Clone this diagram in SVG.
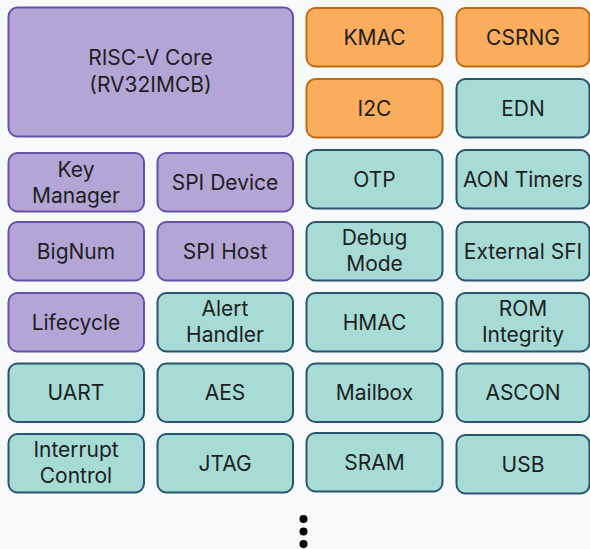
<svg xmlns="http://www.w3.org/2000/svg" width="590" height="549" viewBox="0 0 590 549">
<style>
.p{fill:#b3a6d6;stroke:#6651a8;stroke-width:2}
.o{fill:#f9ad5d;stroke:#c2690f;stroke-width:2}
.t{fill:#a6dbd6;stroke:#28546f;stroke-width:2}
text{font-family:Inter,"Open Sans","Liberation Sans",sans-serif;font-size:21px;fill:#1e1e1e;text-anchor:middle}
</style>
<rect x="0" y="0" width="590" height="549" fill="#f8f9fb"/>
<g id="core"><rect class="p" x="8.5" y="7.5" width="284.5" height="129" rx="9"/><text x="150.5" y="65">RISC-V Core</text><text x="150.5" y="92">(RV32IMCB)</text></g>
<g id="kmac"><rect class="o" x="306.5" y="8" width="136" height="58.5" rx="9"/><text x="374.5" y="45">KMAC</text></g>
<g id="csrng"><rect class="o" x="456.5" y="8" width="133" height="58.5" rx="9"/><text x="523" y="45">CSRNG</text></g>
<g id="i2c"><rect class="o" x="306.5" y="79" width="136" height="58.5" rx="9"/><text x="374.5" y="116">I2C</text></g>
<g id="edn"><rect class="t" x="456.5" y="79" width="133" height="58.5" rx="9"/><text x="523" y="116">EDN</text></g>
<g id="keymgr"><rect class="p" x="8.5" y="153" width="135.5" height="58.5" rx="9"/><text x="76" y="177">Key</text><text x="76" y="202.5">Manager</text></g>
<g id="spidev"><rect class="p" x="157.5" y="153" width="135.5" height="58.5" rx="9"/><text x="225" y="190">SPI Device</text></g>
<g id="otp"><rect class="t" x="306.5" y="150" width="136" height="58.5" rx="9"/><text x="374.5" y="187">OTP</text></g>
<g id="aon"><rect class="t" x="456.5" y="150" width="133" height="58.5" rx="9"/><text x="523" y="187">AON Timers</text></g>
<g id="bignum"><rect class="p" x="8.5" y="222" width="135.5" height="58.5" rx="9"/><text x="76" y="259">BigNum</text></g>
<g id="spihost"><rect class="p" x="157.5" y="222" width="135.5" height="58.5" rx="9"/><text x="225" y="259">SPI Host</text></g>
<g id="debug"><rect class="t" x="306.5" y="222" width="136" height="58.5" rx="9"/><text x="374.5" y="245">Debug</text><text x="374.5" y="270.5">Mode</text></g>
<g id="extsfi"><rect class="t" x="456.5" y="222" width="133" height="58.5" rx="9"/><text x="523" y="259">External SFI</text></g>
<g id="lifecycle"><rect class="p" x="8.5" y="293" width="135.5" height="58.5" rx="9"/><text x="76" y="330">Lifecycle</text></g>
<g id="alert"><rect class="t" x="157.5" y="293" width="135.5" height="58.5" rx="9"/><text x="225" y="316">Alert</text><text x="225" y="341.5">Handler</text></g>
<g id="hmac"><rect class="t" x="306.5" y="293" width="136" height="58.5" rx="9"/><text x="374.5" y="330">HMAC</text></g>
<g id="rom"><rect class="t" x="456.5" y="293" width="133" height="58.5" rx="9"/><text x="523" y="316">ROM</text><text x="523" y="341.5">Integrity</text></g>
<g id="uart"><rect class="t" x="8.5" y="363.5" width="135.5" height="58.5" rx="9"/><text x="76" y="400">UART</text></g>
<g id="aes"><rect class="t" x="157.5" y="363.5" width="135.5" height="58.5" rx="9"/><text x="225" y="400">AES</text></g>
<g id="mailbox"><rect class="t" x="306.5" y="363.5" width="136" height="58.5" rx="9"/><text x="374.5" y="400">Mailbox</text></g>
<g id="ascon"><rect class="t" x="456.5" y="363.5" width="133" height="58.5" rx="9"/><text x="523" y="400">ASCON</text></g>
<g id="intr"><rect class="t" x="8.5" y="434" width="135.5" height="58.5" rx="9"/><text x="76" y="457">Interrupt</text><text x="76" y="482.5">Control</text></g>
<g id="jtag"><rect class="t" x="157.5" y="434" width="135.5" height="58.5" rx="9"/><text x="225" y="471">JTAG</text></g>
<g id="sram"><rect class="t" x="306.5" y="433" width="136" height="58.5" rx="9"/><text x="374.5" y="470">SRAM</text></g>
<g id="usb"><rect class="t" x="456.5" y="435" width="133" height="58.5" rx="9"/><text x="523" y="472">USB</text></g>
<g id="more"><circle cx="303.5" cy="519" r="4"/><circle cx="303.5" cy="531.5" r="4"/><circle cx="303.5" cy="544" r="4"/></g>
<g id="connectors"></g>
</svg>
